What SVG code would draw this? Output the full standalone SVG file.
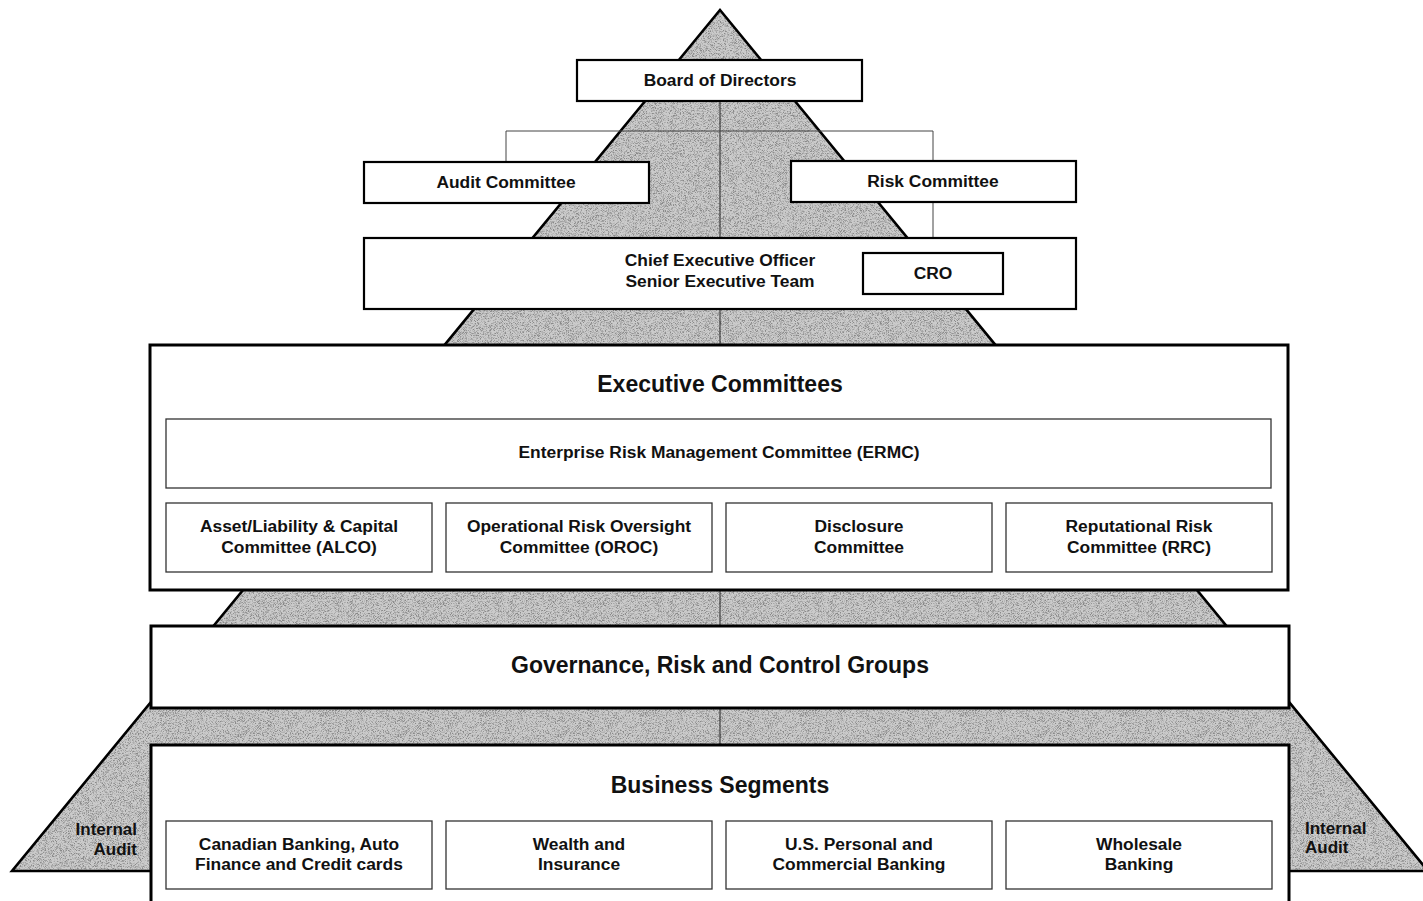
<svg xmlns="http://www.w3.org/2000/svg" width="1423" height="901" viewBox="0 0 1423 901">
  <style>
    text { font-family: "Liberation Sans", Arial, sans-serif; font-weight: bold; fill: #111; }
    .t16 { font-size: 17.4px; text-anchor: middle; }
    .t21 { font-size: 23px; text-anchor: middle; }
    .main { fill: #fff; stroke: #000; stroke-width: 3; }
    .top { fill: #fff; stroke: #000; stroke-width: 2.2; }
    .sub { fill: #fff; stroke: #333; stroke-width: 1.3; }
    .link { fill: none; stroke: #444; stroke-width: 1; }
    .audit { font-size: 17px; }
  </style>
  <defs>
    <!-- fine stipple for the shaded pyramid -->
    <filter id="grain" x="0" y="0" width="100%" height="100%">
      <feTurbulence type="fractalNoise" baseFrequency="1.6" numOctaves="1" seed="7" result="n"/>
      <feColorMatrix in="n" type="matrix" values="0 0 0 0 0.25  0 0 0 0 0.25  0 0 0 0 0.25  4.2 0 0 0 -1.9" result="dots"/>
      <feComposite in="dots" in2="SourceGraphic" operator="in" result="d"/>
      <feMerge><feMergeNode in="SourceGraphic"/><feMergeNode in="d"/></feMerge>
    </filter>
  </defs>

  <rect width="1423" height="901" fill="#fff"/>

  <!-- shaded pyramid -->
  <g id="pyramid">
    <polygon points="720,10 1428,871 12,871" fill="#cbcbcb" filter="url(#grain)"/>
    <polygon points="720,10 1428,871 12,871" fill="none" stroke="#000" stroke-width="2.6" stroke-linejoin="miter"/>
    <line x1="720" y1="101" x2="720" y2="745" stroke="#222" stroke-width="1"/>
  </g>

  <!-- connectors -->
  <g id="connectors">
    <polyline class="link" points="506,162 506,131 933,131 933,161"/>
    <line class="link" x1="933" y1="202" x2="933" y2="253"/>
  </g>

  <g id="board">
    <rect class="top" x="577" y="60" width="285" height="41"/>
    <text class="t16" x="720" y="86">Board of Directors</text>
  </g>

  <g id="audit-committee">
    <rect class="top" x="364" y="162" width="285" height="41"/>
    <text class="t16" x="506" y="188">Audit Committee</text>
  </g>

  <g id="risk-committee">
    <rect class="top" x="791" y="161" width="285" height="41"/>
    <text class="t16" x="933" y="187">Risk Committee</text>
  </g>

  <g id="ceo">
    <rect class="top" x="364" y="238" width="712" height="71"/>
    <text class="t16" x="720" y="266">Chief Executive Officer</text>
    <text class="t16" x="720" y="287">Senior Executive Team</text>
  </g>

  <g id="cro">
    <rect class="top" x="863" y="253" width="140" height="41"/>
    <text class="t16" x="933" y="279">CRO</text>
  </g>

  <g id="executive-committees">
    <rect class="main" x="150" y="345" width="1138" height="245"/>
    <text class="t21" x="720" y="392">Executive Committees</text>
  </g>

  <g id="ermc">
    <rect class="sub" x="166" y="419" width="1105" height="69"/>
    <text class="t16" x="719" y="458">Enterprise Risk Management Committee (ERMC)</text>
  </g>

  <g id="alco">
    <rect class="sub" x="166" y="503" width="266" height="69"/>
    <text class="t16" x="299" y="532">Asset/Liability &amp; Capital</text>
    <text class="t16" x="299" y="553">Committee (ALCO)</text>
  </g>

  <g id="oroc">
    <rect class="sub" x="446" y="503" width="266" height="69"/>
    <text class="t16" x="579" y="532">Operational Risk Oversight</text>
    <text class="t16" x="579" y="553">Committee (OROC)</text>
  </g>

  <g id="disclosure">
    <rect class="sub" x="726" y="503" width="266" height="69"/>
    <text class="t16" x="859" y="532">Disclosure</text>
    <text class="t16" x="859" y="553">Committee</text>
  </g>

  <g id="rrc">
    <rect class="sub" x="1006" y="503" width="266" height="69"/>
    <text class="t16" x="1139" y="532">Reputational Risk</text>
    <text class="t16" x="1139" y="553">Committee (RRC)</text>
  </g>

  <g id="governance">
    <rect class="main" x="151" y="626" width="1138" height="82"/>
    <text class="t21" x="720" y="673">Governance, Risk and Control Groups</text>
  </g>

  <g id="business-segments">
    <rect class="main" x="151" y="745" width="1138" height="162"/>
    <text class="t21" x="720" y="793">Business Segments</text>
  </g>

  <g id="canadian-banking">
    <rect class="sub" x="166" y="821" width="266" height="68"/>
    <text class="t16" x="299" y="850">Canadian Banking, Auto</text>
    <text class="t16" x="299" y="870">Finance and Credit cards</text>
  </g>

  <g id="wealth">
    <rect class="sub" x="446" y="821" width="266" height="68"/>
    <text class="t16" x="579" y="850">Wealth and</text>
    <text class="t16" x="579" y="870">Insurance</text>
  </g>

  <g id="us-banking">
    <rect class="sub" x="726" y="821" width="266" height="68"/>
    <text class="t16" x="859" y="850">U.S. Personal and</text>
    <text class="t16" x="859" y="870">Commercial Banking</text>
  </g>

  <g id="wholesale">
    <rect class="sub" x="1006" y="821" width="266" height="68"/>
    <text class="t16" x="1139" y="850">Wholesale</text>
    <text class="t16" x="1139" y="870">Banking</text>
  </g>

  <g id="internal-audit-left">
    <text class="audit" x="137" y="835" text-anchor="end">Internal</text>
    <text class="audit" x="137" y="855" text-anchor="end">Audit</text>
  </g>

  <g id="internal-audit-right">
    <text class="audit" x="1305" y="834">Internal</text>
    <text class="audit" x="1305" y="853">Audit</text>
  </g>
</svg>
